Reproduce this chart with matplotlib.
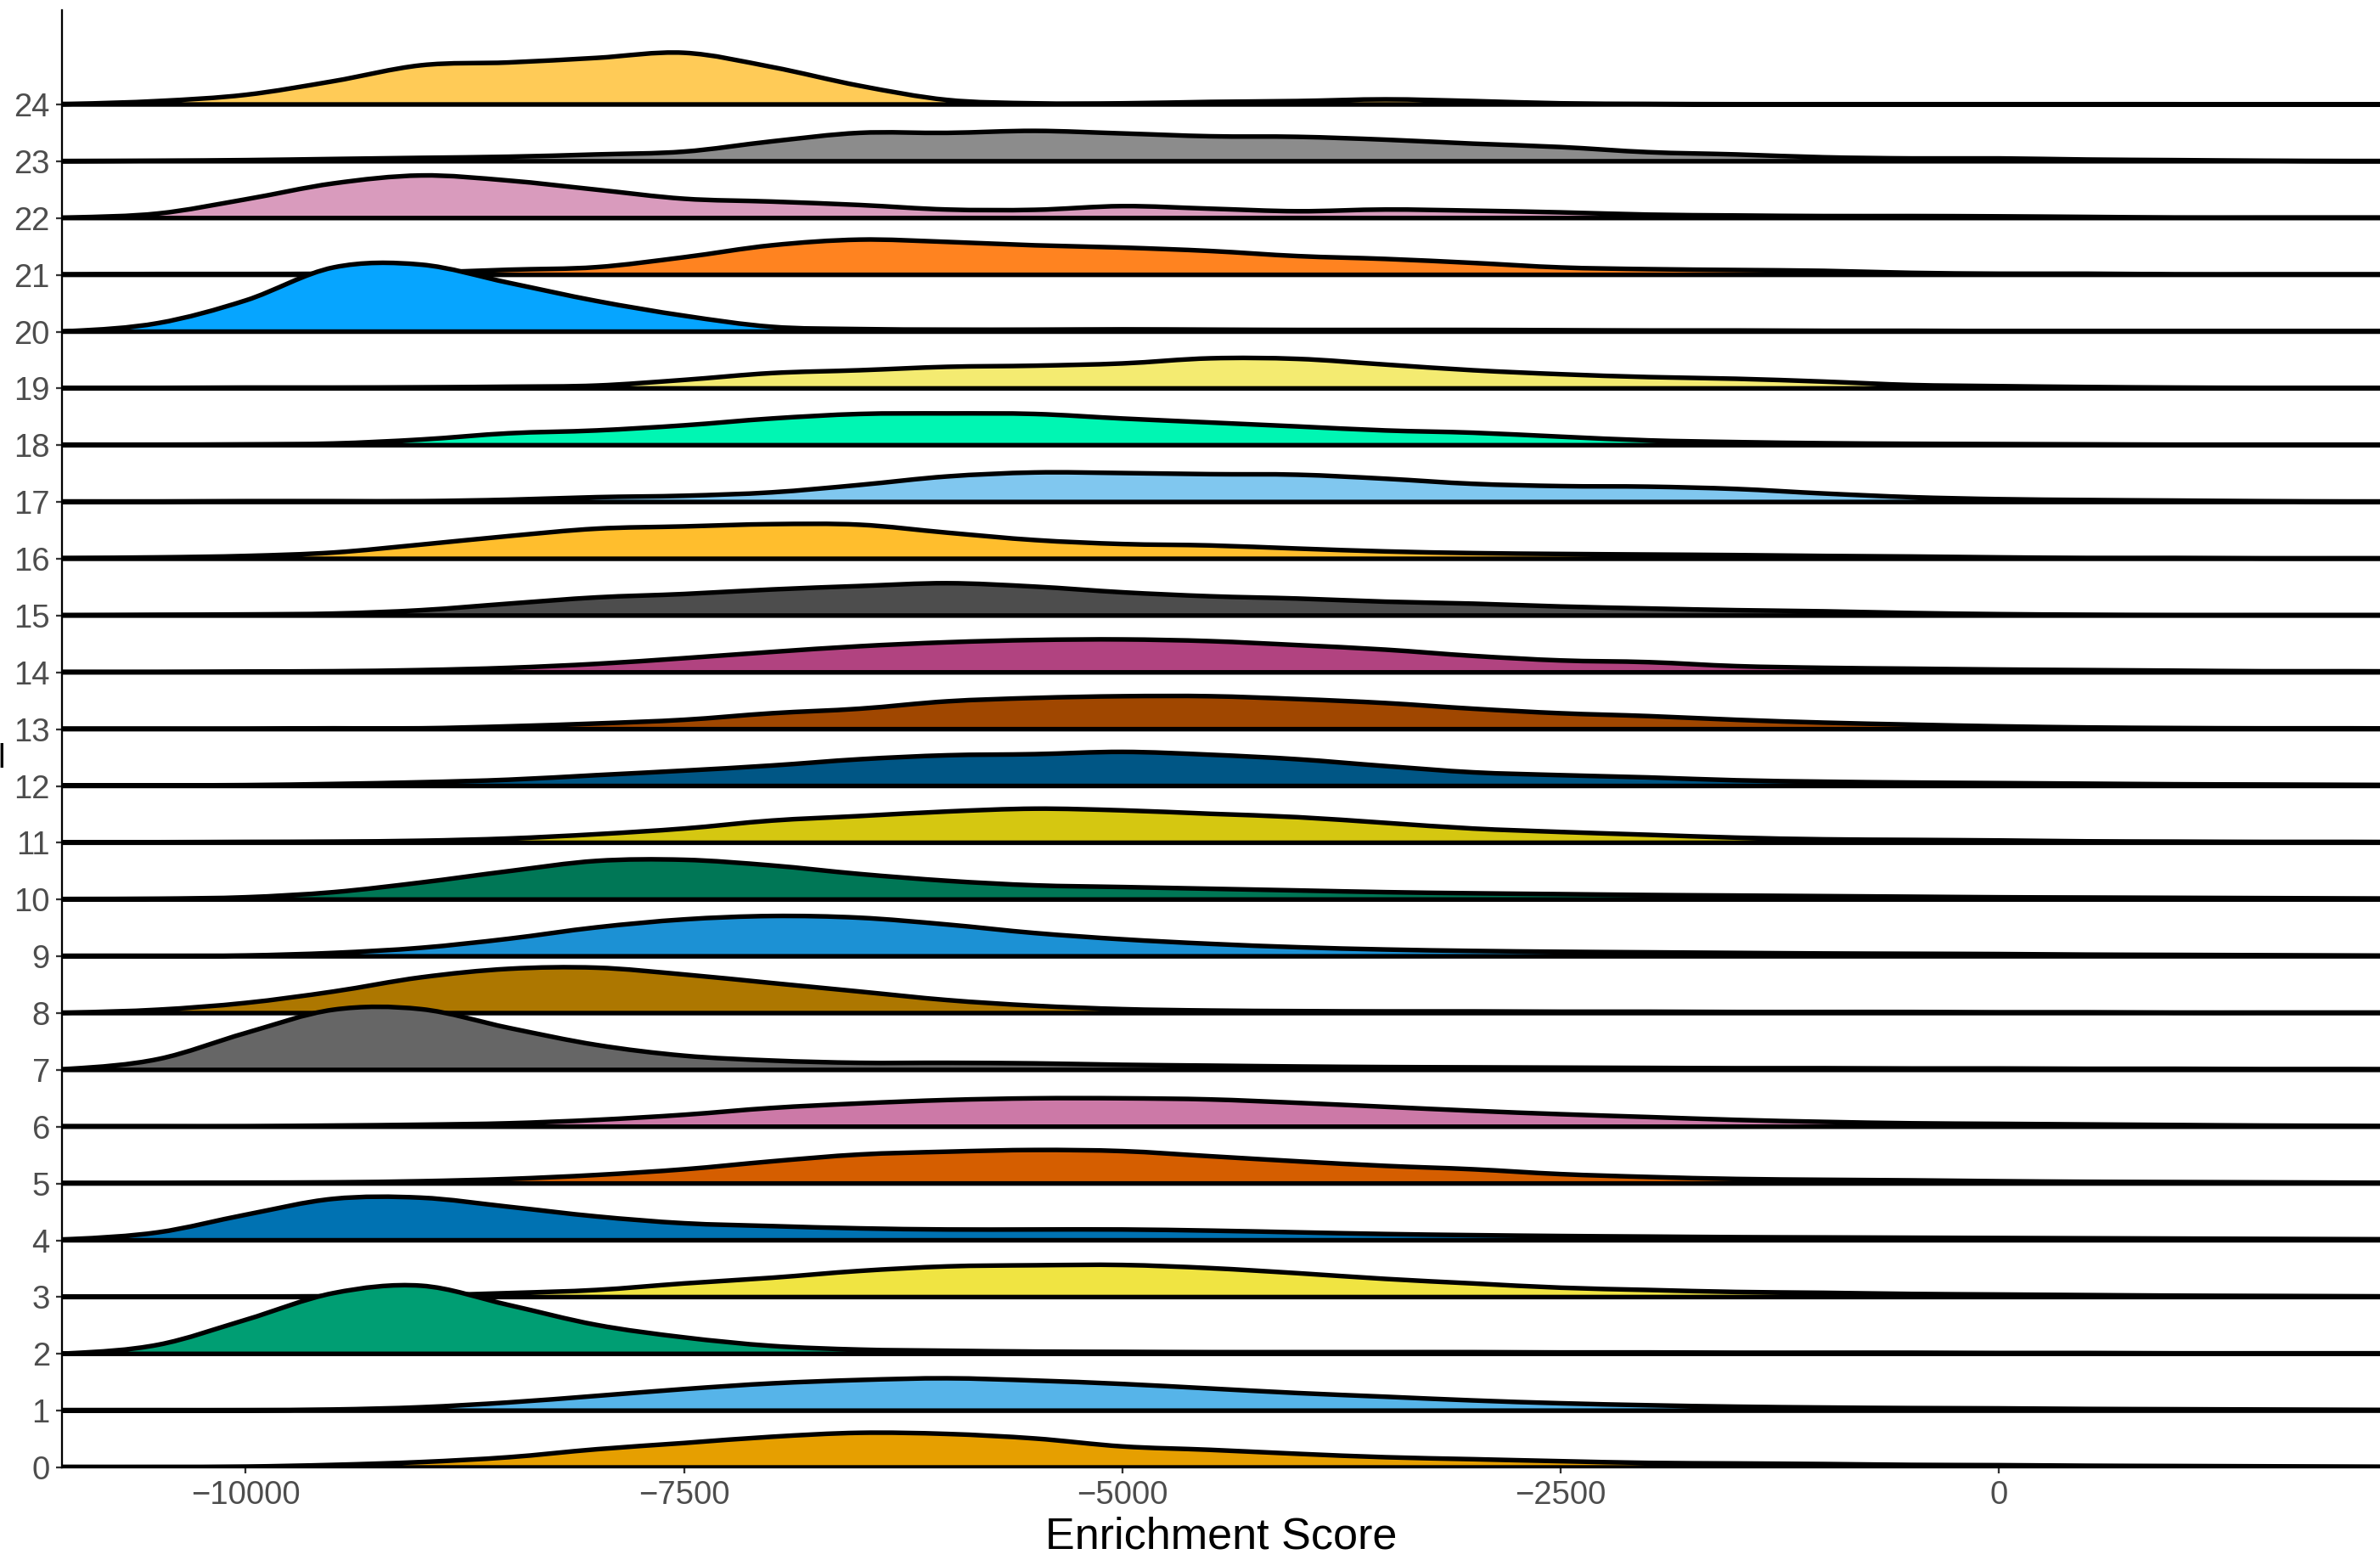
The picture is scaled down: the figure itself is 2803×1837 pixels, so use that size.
import matplotlib
matplotlib.use("Agg")
import matplotlib.pyplot as plt
from matplotlib.path import Path
from matplotlib.patches import PathPatch

plt.rcParams['font.family'] = ['Liberation Sans', 'DejaVu Sans']

# ---------------- data ----------------
# enrichment-score positions at which the ridge heights were read
score_grid = [-11500, -11000, -10500, -10000, -9500, -9000, -8500, -8000,
              -7500, -7000, -6500, -6000, -5500, -5000, -4500, -4000,
              -3500, -3000, -2500, -2000, -1500, -1000, -500, 0,
              500, 1000, 1500, 2000, 2500]

groups = list(range(25))
group_labels = [str(g) for g in groups]

# scaled density heights (in units of one ridge row), one list per group
ridge_0 = [0.01, 0.01, 0.01, 0.015, 0.045, 0.095, 0.18, 0.32, 0.43, 0.54, 0.61, 0.59, 0.51, 0.37,
           0.31, 0.24, 0.18, 0.145, 0.11, 0.08, 0.07, 0.06, 0.045, 0.04, 0.03, 0.025, 0.02, 0.015, 0.01]
ridge_1 = [0.01, 0.01, 0.01, 0.01, 0.02, 0.06, 0.145, 0.26, 0.38, 0.48, 0.54, 0.57, 0.53, 0.47,
           0.39, 0.31, 0.245, 0.18, 0.13, 0.095, 0.07, 0.055, 0.045, 0.04, 0.03, 0.025, 0.02, 0.015, 0.01]
ridge_2 = [0.0, 0.01, 0.16, 0.60, 1.07, 1.20, 0.86, 0.51, 0.29, 0.14, 0.075, 0.055, 0.04, 0.035,
           0.03, 0.03, 0.03, 0.03, 0.025, 0.025, 0.02, 0.02, 0.02, 0.015, 0.015, 0.01, 0.01, 0.01, 0.01]
ridge_3 = [0.0, 0.005, 0.01, 0.01, 0.015, 0.03, 0.07, 0.125, 0.24, 0.34, 0.46, 0.54, 0.56, 0.565,
           0.51, 0.42, 0.32, 0.24, 0.165, 0.125, 0.09, 0.075, 0.055, 0.045, 0.035, 0.025, 0.02, 0.015, 0.01]
ridge_4 = [0.0, 0.02, 0.14, 0.45, 0.73, 0.75, 0.59, 0.42, 0.30, 0.25, 0.21, 0.19, 0.19, 0.19,
           0.17, 0.14, 0.11, 0.09, 0.075, 0.065, 0.055, 0.05, 0.045, 0.04, 0.035, 0.03, 0.025, 0.02, 0.015]
ridge_5 = [0.01, 0.01, 0.01, 0.015, 0.02, 0.04, 0.08, 0.15, 0.25, 0.39, 0.51, 0.56, 0.59, 0.57,
           0.48, 0.39, 0.31, 0.25, 0.165, 0.115, 0.08, 0.065, 0.055, 0.04, 0.03, 0.025, 0.02, 0.015, 0.01]
ridge_6 = [0.01, 0.01, 0.01, 0.01, 0.02, 0.035, 0.06, 0.12, 0.21, 0.33, 0.41, 0.47, 0.50, 0.50,
           0.48, 0.42, 0.35, 0.28, 0.22, 0.17, 0.12, 0.085, 0.06, 0.05, 0.04, 0.03, 0.02, 0.015, 0.01]
ridge_7 = [0.0, 0.02, 0.19, 0.65, 1.06, 1.07, 0.74, 0.44, 0.25, 0.165, 0.125, 0.125, 0.115, 0.09,
           0.075, 0.06, 0.05, 0.045, 0.04, 0.035, 0.03, 0.03, 0.025, 0.025, 0.02, 0.02, 0.015, 0.015, 0.01]
ridge_8 = [0.0, 0.01, 0.06, 0.18, 0.38, 0.63, 0.78, 0.80, 0.68, 0.53, 0.38, 0.23, 0.13, 0.07,
           0.045, 0.035, 0.03, 0.03, 0.025, 0.025, 0.02, 0.02, 0.02, 0.015, 0.015, 0.01, 0.01, 0.01, 0.01]
ridge_9 = [0.0, 0.01, 0.01, 0.015, 0.06, 0.15, 0.31, 0.51, 0.65, 0.71, 0.68, 0.56, 0.41, 0.30,
           0.22, 0.16, 0.12, 0.095, 0.08, 0.07, 0.06, 0.05, 0.045, 0.04, 0.03, 0.025, 0.02, 0.015, 0.01]
ridge_10 = [0.0, 0.01, 0.015, 0.04, 0.13, 0.30, 0.50, 0.68, 0.70, 0.60, 0.45, 0.33, 0.25, 0.22,
            0.19, 0.16, 0.13, 0.11, 0.095, 0.08, 0.07, 0.06, 0.05, 0.04, 0.035, 0.03, 0.025, 0.02, 0.015]
ridge_11 = [0.01, 0.01, 0.01, 0.015, 0.02, 0.035, 0.075, 0.15, 0.25, 0.39, 0.47, 0.55, 0.60, 0.57,
            0.51, 0.45, 0.35, 0.25, 0.19, 0.14, 0.09, 0.06, 0.05, 0.04, 0.025, 0.02, 0.015, 0.015, 0.01]
ridge_12 = [0.01, 0.01, 0.01, 0.015, 0.035, 0.065, 0.11, 0.19, 0.27, 0.36, 0.47, 0.54, 0.56, 0.60,
            0.55, 0.47, 0.35, 0.24, 0.19, 0.15, 0.10, 0.075, 0.06, 0.05, 0.04, 0.03, 0.025, 0.02, 0.015]
ridge_13 = [0.01, 0.01, 0.01, 0.01, 0.015, 0.015, 0.05, 0.10, 0.165, 0.28, 0.36, 0.49, 0.55, 0.58,
            0.58, 0.53, 0.46, 0.36, 0.28, 0.23, 0.165, 0.115, 0.08, 0.05, 0.03, 0.02, 0.015, 0.015, 0.01]
ridge_14 = [0.01, 0.01, 0.01, 0.015, 0.02, 0.04, 0.08, 0.15, 0.25, 0.36, 0.46, 0.53, 0.57, 0.58,
            0.55, 0.48, 0.40, 0.29, 0.21, 0.18, 0.11, 0.08, 0.065, 0.05, 0.04, 0.03, 0.02, 0.02, 0.015]
ridge_15 = [0.01, 0.01, 0.015, 0.02, 0.035, 0.095, 0.21, 0.32, 0.38, 0.46, 0.52, 0.57, 0.51, 0.41,
            0.34, 0.30, 0.245, 0.21, 0.16, 0.125, 0.095, 0.075, 0.045, 0.025, 0.015, 0.01, 0.01, 0.01, 0.01]
ridge_16 = [0.01, 0.015, 0.025, 0.05, 0.11, 0.25, 0.40, 0.53, 0.57, 0.61, 0.60, 0.46, 0.33, 0.26,
            0.235, 0.18, 0.13, 0.10, 0.085, 0.075, 0.065, 0.05, 0.04, 0.025, 0.015, 0.015, 0.01, 0.01, 0.01]
ridge_17 = [0.01, 0.01, 0.01, 0.015, 0.015, 0.015, 0.04, 0.085, 0.11, 0.17, 0.30, 0.45, 0.52, 0.51,
            0.49, 0.48, 0.41, 0.32, 0.28, 0.27, 0.23, 0.15, 0.085, 0.05, 0.035, 0.025, 0.015, 0.01, 0.01]
ridge_18 = [0.01, 0.01, 0.01, 0.015, 0.03, 0.10, 0.21, 0.26, 0.35, 0.47, 0.55, 0.56, 0.55, 0.47,
            0.40, 0.33, 0.26, 0.22, 0.15, 0.085, 0.055, 0.035, 0.025, 0.02, 0.015, 0.01, 0.01, 0.01, 0.01]
ridge_19 = [0.01, 0.01, 0.01, 0.015, 0.015, 0.02, 0.03, 0.05, 0.15, 0.27, 0.32, 0.38, 0.40, 0.44,
            0.53, 0.52, 0.42, 0.32, 0.25, 0.20, 0.17, 0.12, 0.06, 0.04, 0.025, 0.015, 0.01, 0.01, 0.005]
ridge_20 = [0.0, 0.01, 0.15, 0.55, 1.13, 1.18, 0.86, 0.54, 0.28, 0.085, 0.045, 0.035, 0.035, 0.04,
            0.035, 0.03, 0.03, 0.03, 0.025, 0.02, 0.02, 0.015, 0.015, 0.01, 0.01, 0.01, 0.01, 0.01, 0.01]
ridge_21 = [0.01, 0.01, 0.015, 0.015, 0.02, 0.04, 0.09, 0.135, 0.31, 0.52, 0.62, 0.58, 0.52, 0.48,
            0.42, 0.33, 0.28, 0.21, 0.13, 0.10, 0.085, 0.07, 0.035, 0.02, 0.02, 0.01, 0.01, 0.01, 0.01]
ridge_22 = [0.0, 0.01, 0.08, 0.33, 0.61, 0.75, 0.66, 0.50, 0.34, 0.29, 0.23, 0.15, 0.145, 0.21,
            0.165, 0.12, 0.15, 0.13, 0.10, 0.06, 0.045, 0.035, 0.035, 0.03, 0.02, 0.01, 0.01, 0.01, 0.01]
ridge_23 = [0.0, 0.005, 0.01, 0.02, 0.04, 0.06, 0.08, 0.12, 0.17, 0.35, 0.50, 0.50, 0.535, 0.49,
            0.44, 0.43, 0.38, 0.31, 0.25, 0.16, 0.12, 0.07, 0.05, 0.05, 0.03, 0.02, 0.01, 0.005, 0.005]
ridge_24 = [0.0, 0.01, 0.06, 0.17, 0.41, 0.69, 0.74, 0.82, 0.91, 0.66, 0.33, 0.08, 0.02, 0.02,
            0.045, 0.06, 0.09, 0.06, 0.02, 0.01, 0.005, 0.005, 0.005, 0.005, 0.005, 0.005, 0.0, 0.0, 0.0]

ridges = [ridge_0, ridge_1, ridge_2, ridge_3, ridge_4, ridge_5, ridge_6, ridge_7, ridge_8,
          ridge_9, ridge_10, ridge_11, ridge_12, ridge_13, ridge_14, ridge_15, ridge_16,
          ridge_17, ridge_18, ridge_19, ridge_20, ridge_21, ridge_22, ridge_23, ridge_24]

fill_colors = ['#E69F00', '#56B4E9', '#009E73', '#F0E442', '#0072B2', '#D55E00', '#CC79A7',
               '#666666', '#AD7700', '#1C91D4', '#007756', '#D5C711', '#005685', '#A04700',
               '#B14380', '#4D4D4D', '#FFBE2D', '#80C7EF', '#00F6B3', '#F4EB71', '#06A5FF',
               '#FF8320', '#D99BBD', '#8C8C8C', '#FFCB57']

x_ticks = [-10000, -7500, -5000, -2500, 0]
x_tick_labels = ['\u221210000', '\u22127500', '\u22125000', '\u22122500', '0']

# ---------------- figure ----------------
W, H = 2804, 1837
fig = plt.figure(figsize=(W / 300, H / 300), dpi=300)
ax = fig.add_axes([73 / W, (H - 1728) / H, (W - 73) / W, (1728 - 12) / H])
ax.set_xlim(-11048, 2177)
ax.set_ylim(0, 25.66)


def ridge_path(xs, base, hs):
    """Smooth (Catmull-Rom as cubic Bezier) ridge outline, closed on its baseline."""
    pts = [(x, base + h) for x, h in zip(xs, hs)]
    n = len(pts)
    verts = [pts[0]]
    codes = [Path.MOVETO]
    for i in range(n - 1):
        p0 = pts[i - 1] if i > 0 else pts[i]
        p1 = pts[i]
        p2 = pts[i + 1]
        p3 = pts[i + 2] if i + 2 < n else pts[i + 1]
        c1 = (p1[0] + (p2[0] - p0[0]) / 6.0, p1[1] + (p2[1] - p0[1]) / 6.0)
        c2 = (p2[0] - (p3[0] - p1[0]) / 6.0, p2[1] - (p3[1] - p1[1]) / 6.0)
        verts += [c1, c2, p2]
        codes += [Path.CURVE4] * 3
    verts += [(xs[-1], base), (xs[0], base), (xs[0], base)]
    codes += [Path.LINETO, Path.LINETO, Path.CLOSEPOLY]
    return Path(verts, codes)


for g, hs, col in zip(groups, ridges, fill_colors):
    z = 2 + (len(groups) - g) * 2
    patch = PathPatch(ridge_path(score_grid, g, hs), facecolor=col, edgecolor='black',
                      linewidth=1.3, joinstyle='round', zorder=z)
    ax.add_patch(patch)

for side in ['top', 'right']:
    ax.spines[side].set_visible(False)
for side in ['left', 'bottom']:
    ax.spines[side].set_linewidth(0.55)
    ax.spines[side].set_color('black')
    ax.spines[side].set_zorder(100)

ax.set_yticks(groups)
ax.set_yticklabels(group_labels)
ax.set_xticks(x_ticks)
ax.set_xticklabels(x_tick_labels)
ax.tick_params(axis='both', which='major', labelsize=9.2, labelcolor='#4D4D4D',
               color='#333333', length=1.7, width=0.55)
ax.tick_params(axis='y', pad=1.7)
ax.tick_params(axis='x', pad=1.9)

fig.text((73 + W) / 2 / W, 1 - 1823 / H, 'Enrichment Score', ha='center', va='baseline',
         fontsize=12.5, color='black')
fig.text(16.5 / W, 1 - 888 / H, '\u2013', rotation=90, rotation_mode='anchor',
         ha='center', va='baseline', fontsize=12.5, color='black')

fig.savefig('out.png', dpi=300)
